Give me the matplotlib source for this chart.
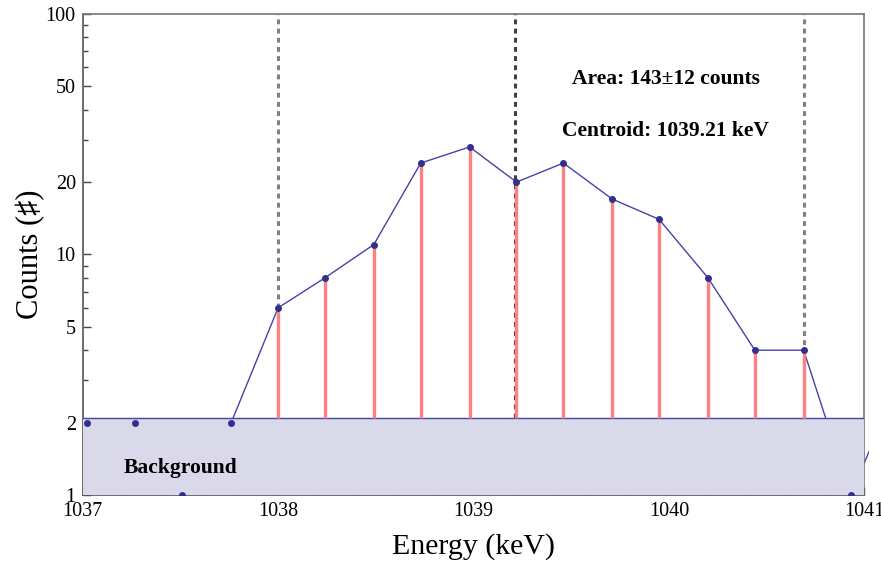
import matplotlib
matplotlib.use("Agg")
import matplotlib.pyplot as plt
from matplotlib.patches import Rectangle
from matplotlib.ticker import FixedLocator, FuncFormatter

plt.rcParams["font.family"] = ["Liberation Serif", "DejaVu Sans"]

# Spectrum channels (keV) and counts
energy = [1037.02, 1037.27, 1037.51, 1037.76, 1038.00, 1038.24, 1038.49, 1038.73,
          1038.98, 1039.22, 1039.46, 1039.71, 1039.95, 1040.20, 1040.44, 1040.69,
          1040.93, 1041.18]
counts = [2, 2, 1, 2, 6, 8, 11, 24, 28, 20, 24, 17, 14, 8, 4, 4, 1, 3]

# Peak region and fit results
background = 2.09
roi_low, roi_high = 1038.00, 1040.69
centroid = 1039.21

fig = plt.figure(figsize=(8.81, 5.67), dpi=100)
ax = fig.add_axes([0.0939, 0.127, 0.8871, 0.8483])
ax.set_yscale("log")
ax.set_xlim(1037, 1041)
ax.set_ylim(1, 100)

# data line, allowed to run a little past the right frame
line, = ax.plot(energy, counts, color="#4444a8", lw=1.0, zorder=2)
line.set_clip_path(Rectangle((0, 0), 1.006, 1, transform=ax.transAxes))

# background region
ax.fill_between([1037, 1041], 1, background, color="#d9d9ea", lw=0, zorder=3)
ax.axhline(background, color="#4444a8", lw=1.0, zorder=4)

# ROI limits and centroid
for xv, col in [(roi_low, "#808080"), (roi_high, "#808080"), (centroid, "#404040")]:
    ax.plot([xv, xv], [background, 100], color=col, lw=2.2,
            linestyle=(0, (1.6, 1.4)), zorder=4)

# counts above background
for e, c in zip(energy, counts):
    if roi_low - 0.01 <= e <= roi_high + 0.01:
        ax.plot([e, e], [background, c], color="#ff8080", lw=2.4,
                solid_capstyle="butt", zorder=5)

ax.plot(energy, counts, "o", color="#303090", ms=4, zorder=6)

ax.text(0.746, 0.865, "Area: 143\u00b112 counts", fontsize=15.5, fontweight="bold",
        ha="center", va="center", transform=ax.transAxes)
ax.text(0.746, 0.757, "Centroid: 1039.21 keV", fontsize=15.5, fontweight="bold",
        ha="center", va="center", transform=ax.transAxes)
ax.text(1037.21, 1.29, "Background", fontsize=15.5, fontweight="bold",
        ha="left", va="center", zorder=7)

ax.set_xlabel("Energy (keV)", fontsize=21.5, labelpad=9)
ax.set_ylabel("Counts (\u266f)", fontsize=22, labelpad=0)

ax.xaxis.set_major_locator(FixedLocator([1037, 1038, 1039, 1040, 1041]))
ax.xaxis.set_minor_locator(FixedLocator([1037 + 0.2 * i for i in range(21)]))
ax.yaxis.set_major_locator(FixedLocator([1, 2, 5, 10, 20, 50, 100]))
ax.yaxis.set_minor_locator(FixedLocator([3, 4, 6, 7, 8, 9, 30, 40, 60, 70, 80, 90]))
ax.xaxis.set_major_formatter(FuncFormatter(lambda v, p: "%d" % round(v)))
ax.yaxis.set_major_formatter(FuncFormatter(lambda v, p: "%d" % round(v)))
ax.yaxis.set_minor_formatter(FuncFormatter(lambda v, p: ""))

ax.tick_params(which="both", direction="in", top=False, right=False,
               labelsize=14.5, color="#444444", width=1)
ax.tick_params(axis="x", which="major", length=6, pad=5)
ax.tick_params(axis="y", which="major", length=6, pad=5)
ax.tick_params(which="minor", length=3.5)

for side in ["left", "bottom"]:
    ax.spines[side].set_color("#555555")
    ax.spines[side].set_linewidth(1.2)
for side in ["top", "right"]:
    ax.spines[side].set_color("#777777")
    ax.spines[side].set_linewidth(1.2)

fig.savefig("out.png", dpi=100)
